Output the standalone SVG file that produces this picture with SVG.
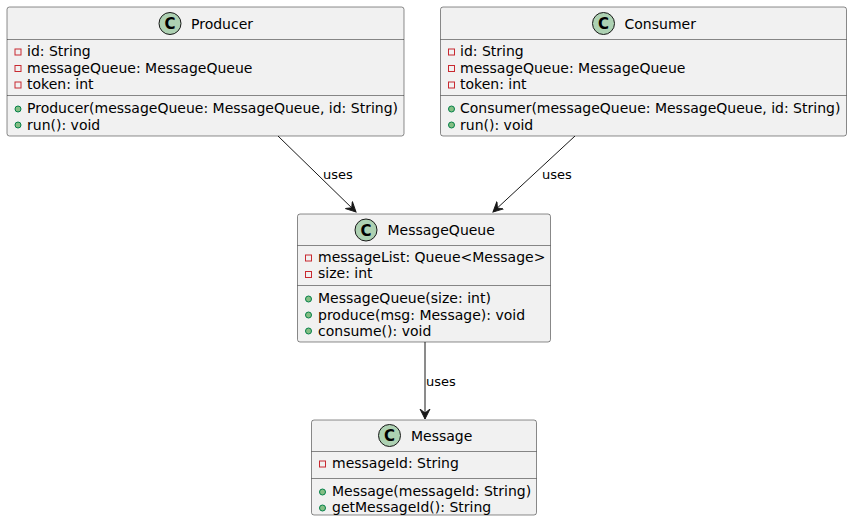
<svg xmlns="http://www.w3.org/2000/svg" width="852" height="521" viewBox="0 0 852 521">
<defs>
<style>
.box{fill:#F1F1F1;stroke:#181818;stroke-width:0.5}
.sep{stroke:#181818;stroke-width:0.5}
.spot{fill:#ADD1B2;stroke:#181818;stroke-width:1}
.spotc{font-family:"DejaVu Sans",sans-serif;font-size:15px;font-weight:bold;fill:#000;text-anchor:middle}
.title{font-family:"DejaVu Sans",sans-serif;font-size:14px;fill:#000}
.mem{font-family:"DejaVu Sans",sans-serif;font-size:14px;fill:#000}
.priv{fill:none;stroke:#C82930;stroke-width:1}
.pub{fill:#84BE84;stroke:#038048;stroke-width:1}
.edge{stroke:#181818;stroke-width:1;fill:none}
.lbl{font-family:"DejaVu Sans",sans-serif;font-size:13px;fill:#000}
</style>
<marker id="arr" markerWidth="12" markerHeight="12" refX="10" refY="5" orient="auto" markerUnits="userSpaceOnUse" viewBox="0 0 12 10">
<path d="M0,0 L10,5 L0,10 L4,5 Z" fill="#181818" stroke="#181818" stroke-width="1"/>
</marker>
</defs>

<g id="connectors">
<line class="edge" x1="278" y1="136" x2="356" y2="212" marker-end="url(#arr)"/>
<text class="lbl" x="323" y="179">uses</text>
<line class="edge" x1="575" y1="136" x2="493" y2="212" marker-end="url(#arr)"/>
<text class="lbl" x="542" y="179">uses</text>
<line class="edge" x1="425" y1="342" x2="425" y2="419" marker-end="url(#arr)"/>
<text class="lbl" x="426" y="386">uses</text>
</g>

<g id="Producer">
<rect class="box" x="7" y="7" width="397" height="129" rx="2.5"/>
<circle class="spot" cx="170" cy="23.5" r="11"/>
<text class="spotc" x="170" y="29">C</text>
<text class="title" x="191" y="28.5">Producer</text>
<line class="sep" x1="7" y1="39.5" x2="404" y2="39.5"/>
<rect class="priv" x="15" y="49" width="6" height="6"/>
<text class="mem" x="27" y="56">id: String</text>
<rect class="priv" x="15" y="65.5" width="6" height="6"/>
<text class="mem" x="27" y="72.5">messageQueue: MessageQueue</text>
<rect class="priv" x="15" y="82" width="6" height="6"/>
<text class="mem" x="27" y="89">token: int</text>
<line class="sep" x1="7" y1="95.5" x2="404" y2="95.5"/>
<circle class="pub" cx="18" cy="109" r="3"/>
<text class="mem" x="27" y="113">Producer(messageQueue: MessageQueue, id: String)</text>
<circle class="pub" cx="18" cy="125" r="3"/>
<text class="mem" x="27" y="129.5">run(): void</text>
</g>

<g id="Consumer">
<rect class="box" x="440.5" y="7" width="406" height="129" rx="2.5"/>
<circle class="spot" cx="603.5" cy="23.5" r="11"/>
<text class="spotc" x="603.5" y="29">C</text>
<text class="title" x="624.5" y="28.5">Consumer</text>
<line class="sep" x1="440.5" y1="39.5" x2="846.5" y2="39.5"/>
<rect class="priv" x="448.5" y="49" width="6" height="6"/>
<text class="mem" x="460" y="56">id: String</text>
<rect class="priv" x="448.5" y="65.5" width="6" height="6"/>
<text class="mem" x="460" y="72.5">messageQueue: MessageQueue</text>
<rect class="priv" x="448.5" y="82" width="6" height="6"/>
<text class="mem" x="460" y="89">token: int</text>
<line class="sep" x1="440.5" y1="95.5" x2="846.5" y2="95.5"/>
<circle class="pub" cx="451.5" cy="109" r="3"/>
<text class="mem" x="460" y="113">Consumer(messageQueue: MessageQueue, id: String)</text>
<circle class="pub" cx="451.5" cy="125" r="3"/>
<text class="mem" x="460" y="129.5">run(): void</text>
</g>

<g id="MessageQueue">
<rect class="box" x="297.5" y="214" width="253" height="128" rx="2.5"/>
<circle class="spot" cx="366" cy="230" r="11"/>
<text class="spotc" x="366" y="235.5">C</text>
<text class="title" x="387.5" y="235">MessageQueue</text>
<line class="sep" x1="297.5" y1="245.5" x2="550.5" y2="245.5"/>
<rect class="priv" x="305.5" y="255" width="6" height="6"/>
<text class="mem" x="318" y="262">messageList: Queue&lt;Message&gt;</text>
<rect class="priv" x="305.5" y="271.5" width="6" height="6"/>
<text class="mem" x="318" y="278">size: int</text>
<line class="sep" x1="297.5" y1="285.5" x2="550.5" y2="285.5"/>
<circle class="pub" cx="308.5" cy="299" r="3"/>
<text class="mem" x="318" y="303">MessageQueue(size: int)</text>
<circle class="pub" cx="308.5" cy="315" r="3"/>
<text class="mem" x="318" y="319.5">produce(msg: Message): void</text>
<circle class="pub" cx="308.5" cy="331" r="3"/>
<text class="mem" x="318" y="335.5">consume(): void</text>
</g>

<g id="Message">
<rect class="box" x="311.5" y="420" width="225" height="95" rx="2.5"/>
<circle class="spot" cx="389.5" cy="435.5" r="11"/>
<text class="spotc" x="389.5" y="441">C</text>
<text class="title" x="411" y="440.5">Message</text>
<line class="sep" x1="311.5" y1="451.5" x2="536.5" y2="451.5"/>
<rect class="priv" x="319.5" y="461" width="6" height="6"/>
<text class="mem" x="332" y="468">messageId: String</text>
<line class="sep" x1="311.5" y1="478.5" x2="536.5" y2="478.5"/>
<circle class="pub" cx="322.5" cy="492" r="3"/>
<text class="mem" x="332" y="496">Message(messageId: String)</text>
<circle class="pub" cx="322.5" cy="508" r="3"/>
<text class="mem" x="332" y="512">getMessageId(): String</text>
</g>
</svg>
